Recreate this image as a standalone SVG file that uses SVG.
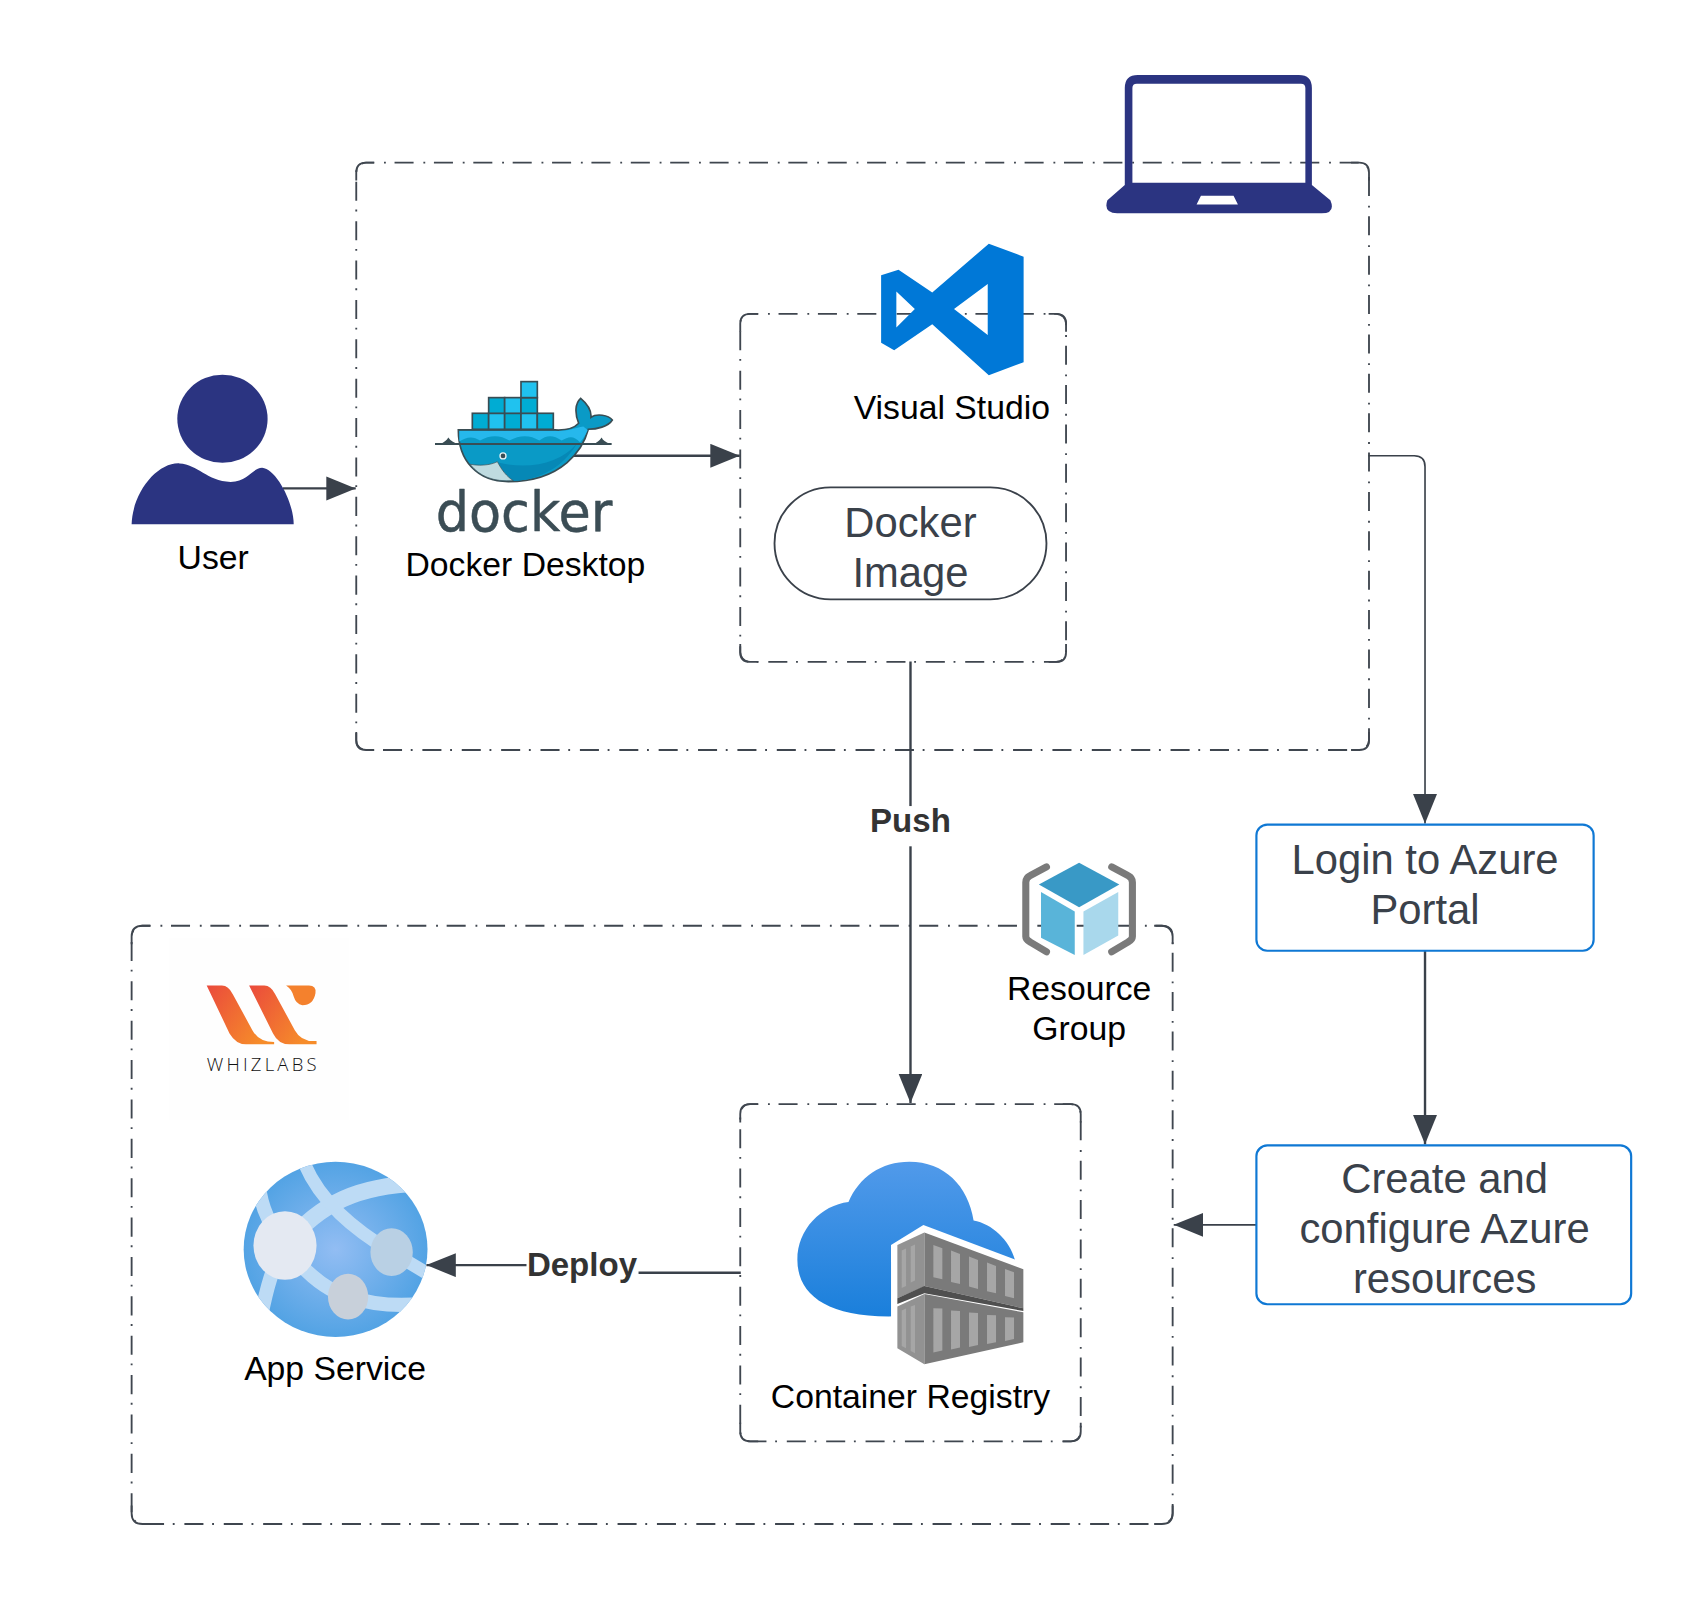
<svg xmlns="http://www.w3.org/2000/svg" width="1706" height="1601" viewBox="0 0 1706 1601">
<style>
text{font-family:"Liberation Sans",Arial,sans-serif}
.l{font-size:31px;fill:#000;text-anchor:middle}
.n{font-size:38.4px;fill:#3a414a;text-anchor:middle}
.b{font-size:30.400px;font-weight:700;fill:#333;text-anchor:middle}
.dd{fill:none;stroke:#3f464f;stroke-width:1.7;stroke-dasharray:17.5 9 1.7 8;stroke-dashoffset:10}
.cn{fill:none;stroke:#3f464f;stroke-width:1.7}
.c{fill:none;stroke:#3a414a;stroke-width:2.200;marker-end:url(#ah)}
.bx{fill:#fff;stroke:#0f78d4;stroke-width:2}
.nv{fill:#2b3481}
.st{fill:#a6a6a6}
.ct{fill:#7a7a7a}
.cl{fill:#929292}
</style>
<defs>
<marker id="ah" markerUnits="userSpaceOnUse" markerWidth="28" markerHeight="24" refX="27" refY="11" orient="auto"><path d="M0,0L27,11L0,22Z" fill="#3a414a"/></marker>
<linearGradient id="wg" x1="0" y1="0" x2="1" y2="0.6"><stop offset="0" stop-color="#ea4a3c"/><stop offset="1" stop-color="#f68c2a"/></linearGradient>
<linearGradient id="cg" x1="0" y1="0" x2="0" y2="1"><stop offset="0" stop-color="#519aea"/><stop offset="1" stop-color="#1a7fdb"/></linearGradient>
<radialGradient id="gg"><stop offset="0" stop-color="#92bdf3"/><stop offset="1" stop-color="#53a3e4"/></radialGradient>
<clipPath id="gc"><ellipse cx="308.500" cy="1148.500" rx="84.500" ry="80.500"/></clipPath>
</defs>
<g transform="scale(1.0878)">
<g id="local-box"><rect class="dd" x="327.500" y="149.500" width="931" height="540" rx="9"/>
<path class="cn" d="M327.500,166V158.500Q327.500,149.500 336.500,149.500H344M1242,149.500H1249.500Q1258.500,149.500 1258.500,158.500V166M1258.500,673V680.500Q1258.500,689.500 1249.500,689.500H1242M344,689.500H336.500Q327.500,689.500 327.500,680.500V673"/></g>
<g id="vs-box"><rect class="dd" x="680.500" y="288.500" width="299.500" height="320" rx="9"/>
<path class="cn" d="M680.500,305V297.500Q680.500,288.500 689.500,288.500H697M964,288.500H971Q980,288.500 980,297.500V305M980,592V599.500Q980,608.500 971,608.500H964M697,608.500H689.500Q680.500,608.500 680.500,599.500V592"/></g>
<g id="azure-box"><rect class="dd" x="121" y="851" width="957" height="550" rx="10"/>
<path class="cn" d="M121,868V861Q121,851 131,851H138M1061,851H1068Q1078,851 1078,861V868M1078,1384V1391Q1078,1401 1068,1401H1061M138,1401H131Q121,1401 121,1391V1384"/></g>
<g id="acr-box"><rect class="dd" x="680.500" y="1015" width="313" height="310" rx="9"/>
<path class="cn" d="M680.500,1032V1024Q680.500,1015 689.500,1015H697M977,1015H984.500Q993.500,1015 993.500,1024V1032M993.500,1308V1316Q993.500,1325 984.500,1325H977M697,1325H689.500Q680.500,1325 680.500,1316V1308"/></g>

<g id="connectors">
<path class="c" d="M260,449H327"/>
<path class="c" d="M525,419H680"/>
<path class="c" style="stroke-width:1.5" d="M1258,419H1300Q1310,419 1310,429V757"/>
<path class="c" d="M837,608V1014"/>
<path class="c" d="M1310,874V1052"/>
<path class="c" style="stroke-width:1.5" d="M1155,1126H1079"/>
<path class="c" d="M681,1170H535V1163H392"/>
</g>

<g id="user">
<ellipse class="nv" cx="204.500" cy="385" rx="41.500" ry="40.500"/>
<path class="nv" d="M121,482C122,452 145,425 165,426C182,427 190,442 212,443C228,443 232,430 241,430C254,431 270,462 270,482Z"/>
<text class="l" x="196" y="523">User</text>
</g>

<g id="laptop">
<path class="nv" fill-rule="evenodd" d="M1046,69H1194Q1206,69 1206,81V170L1223,184Q1228,196 1215,196H1027Q1014,196 1018,184L1034,170V81Q1034,69 1046,69ZM1045,77Q1041,77 1041,81V168H1200V81Q1200,77 1196,77ZM1104,180L1100,188H1138L1134,180Z"/>
</g>

<g id="docker" transform="translate(386.100,340.100) scale(0.3064)">
<path d="M115,180H405C440,182 465,172 476,160C464,130 465,100 482,85C500,100 515,120 513,142C530,130 565,135 577,150C565,170 530,178 505,178C490,235 430,335 265,335C170,335 115,270 115,180Z" fill="#0a9ac6" stroke="#394d54" stroke-width="5"/>
<path d="M118,183H405C440,185 465,175 490,170L503,180C497,195 490,205 480,217C460,195 445,200 425,212C400,195 380,195 358,212C330,195 300,195 268,212C240,195 210,195 180,212C155,195 135,205 118,215Z" fill="#26b8ec"/>
<path d="M470,222C430,290 360,330 280,333C260,320 245,300 234,278C330,300 420,280 470,222Z" fill="#0688b6"/>
<path d="M150,283C190,290 220,282 232,275C245,300 260,320 280,332C220,336 180,320 150,283Z" fill="#bfdbe0" stroke="#394d54" stroke-width="2"/>
<path d="M45,222H575" stroke="#394d54" stroke-width="6" fill="none"/>
<path d="M62,222Q78,215 85,203Q95,218 115,222ZM520,222Q535,218 545,203Q550,215 570,222Z" fill="#394d54"/>
<circle cx="249" cy="258" r="11" fill="#e8f2f5"/><circle cx="249" cy="258" r="7" fill="#394d54"/>
<g stroke="#394d54" stroke-width="5">
<rect x="157" y="130" width="49" height="48" fill="#00acd3"/><rect x="206" y="130" width="48" height="48" fill="#20c2ef"/><rect x="254" y="130" width="49" height="48" fill="#00acd3"/><rect x="303" y="130" width="49" height="48" fill="#20c2ef"/><rect x="352" y="130" width="48" height="48" fill="#00acd3"/>
<rect x="206" y="83" width="48" height="47" fill="#00acd3"/><rect x="254" y="83" width="49" height="47" fill="#20c2ef"/><rect x="303" y="83" width="49" height="47" fill="#00acd3"/>
<rect x="303" y="35" width="49" height="48" fill="#20c2ef"/>
</g>
<text x="312" y="484" style="font-family:'DejaVu Sans',sans-serif;font-size:164px;text-anchor:middle;stroke-linejoin:round" fill="#3b4d55" stroke="#3b4d55" stroke-width="1.500" textLength="530" lengthAdjust="spacingAndGlyphs">docker</text>
</g>
<text class="l" x="483" y="529.500">Docker Desktop</text>

<g id="vscode">
<path fill="#0078d7" fill-rule="evenodd" d="M909,224L941,236V333L909,345L857,298L822,322L810,315V253L826,248L857,269ZM824,268V301L841,284ZM908,261L877,284L908,308Z"/>
<text class="l" x="875" y="385.500">Visual Studio</text>
</g>

<g id="docker-image">
<rect x="712" y="448" width="250" height="103" rx="51.500" fill="#fff" stroke="#3a414a" stroke-width="1.7"/>
<text class="n" x="837" y="493.500">Docker</text>
<text class="n" x="837" y="539.500">Image</text>
</g>

<g id="push-label"><rect x="797" y="741" width="80" height="37" fill="#fff"/><text class="b" x="837" y="765">Push</text></g>
<g id="deploy-label"><rect x="484" y="1145" width="103" height="37" fill="#fff"/><text class="b" x="535" y="1173">Deploy</text></g>

<g id="login"><rect class="bx" x="1155" y="758" width="310" height="116" rx="10"/>
<text class="n" x="1310" y="803.500">Login to Azure</text><text class="n" x="1310" y="849.500">Portal</text></g>
<g id="create"><rect class="bx" x="1155" y="1053" width="344.500" height="146" rx="10"/>
<text class="n" x="1328" y="1097">Create and</text><text class="n" x="1328" y="1143">configure Azure</text><text class="n" x="1328" y="1189">resources</text></g>

<g id="resource-group">
<path d="M962,797L947,805Q943,807 943,811V861Q943,864 947,866L962,875M1022,797L1037,805Q1041,807 1041,811V861Q1041,864 1037,866L1022,875" fill="none" stroke="#7a7a7a" stroke-width="6.500" stroke-linecap="round"/>
<path d="M992,793L1029,813L992,834L955,813Z" fill="#3999c6"/>
<path d="M957,820L988,838V878L957,862Z" fill="#59b4d9"/>
<path d="M996,838L1028,820V860L996,878Z" fill="#a9d8ec"/>
<text class="l" x="992" y="919">Resource</text><text class="l" x="992" y="956.500">Group</text>
</g>

<g id="whizlabs">
<rect x="155.500" y="862" width="165" height="168" fill="#fefefe"/>
<path fill="url(#wg)" d="M190,906H204Q210,906 214,914L232,947Q238,958 252,958V960H226Q217,960 211,950Z"/>
<path fill="url(#wg)" d="M229,906H243Q249,906 253,914L271,947Q277,958 291,957V960H266Q256,960 251,950Z"/>
<path fill="#f4812d" d="M263,906H284Q291,906 290,913Q288,924 278,924Q272,923 270,916Q268,909 263,906Z"/>
<text x="190" y="985" style="font-family:'Open Sans',sans-serif;font-size:17px;font-weight:300" fill="#111" textLength="101">WHIZLABS</text>
</g>

<g id="app-service">
<ellipse cx="308.500" cy="1148.500" rx="84.500" ry="80.500" fill="url(#gg)"/>
<g clip-path="url(#gc)" fill="none" stroke="#bddbf5" stroke-linecap="butt">
<path stroke-width="15" d="M262,1145C295,1105 330,1090 385,1088"/>
<path stroke-width="12" d="M280,1070C295,1105 325,1130 360,1151L395,1172"/>
<path stroke-width="13" d="M262,1145C280,1170 300,1186 320,1192C345,1200 370,1201 392,1198"/>
<path stroke-width="13" d="M238,1090C240,1110 250,1130 262,1145C250,1165 245,1185 240,1210"/>
</g>
<ellipse cx="262" cy="1145" rx="29" ry="31.500" fill="#e4e9f2"/>
<ellipse cx="360" cy="1151" rx="19.500" ry="22" fill="#b9d0e4"/>
<ellipse cx="320" cy="1192" rx="18.500" ry="21" fill="#c8d0da"/>
<text class="l" x="308" y="1269">App Service</text>
</g>

<g id="container-registry">
<path fill="url(#cg)" d="M825,1210C760,1212 733,1190 733,1158C733,1130 755,1108 780,1105C790,1082 810,1068 836,1068C868,1068 890,1090 895,1122C912,1125 928,1140 933,1158V1210Z"/>
<g transform="translate(809,1112.300) scale(0.3064)">
<path fill="#fff" d="M33,330V105L130,45L403,148L440,170V480H33Z"/>
<path class="cl" d="M52,105L133,68V230L52,265Z"/>
<path class="ct" d="M133,68L430,178V295L133,228Z"/>
<path fill="#4f4f4f" d="M52,265L133,228L430,295V303L133,250L52,282Z"/>
<path class="cl" d="M52,290L133,252V463L52,415Z"/>
<path class="ct" d="M133,252L430,307V397L133,463Z"/>
<path class="st" d="M65,122L78,116V228L65,234ZM92,110L105,104V212L92,218ZM160,105L187,115V208L160,202ZM213,122L240,132V222L213,216ZM267,140L294,150V237L267,230ZM321,158L348,168V250L321,244ZM375,177L402,187V265L375,258Z"/>
<path class="st" d="M65,302L78,296V415L65,408ZM92,290L105,285V430L92,423ZM160,295L187,296V422L160,428ZM213,302L240,303V413L213,419ZM267,308L294,309V405L267,411ZM321,315L348,316V397L321,402ZM375,322L402,323V387L375,393Z"/>
</g>
<text class="l" x="837" y="1294">Container Registry</text>
</g>
</g>
</svg>
